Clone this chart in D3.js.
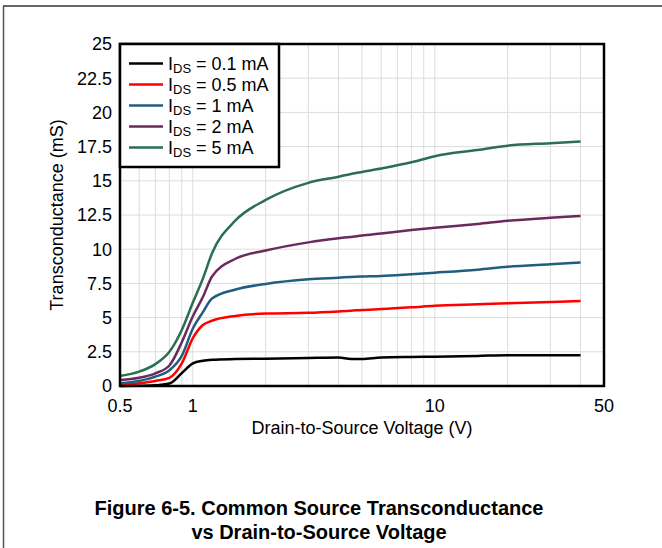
<!DOCTYPE html>
<html>
<head>
<meta charset="utf-8">
<script src="https://cdn.jsdelivr.net/npm/d3@7"></script>
<style>
  html, body { margin: 0; padding: 0; background: #fff; }
  svg { display: block; font-family: "Liberation Sans", Arial, sans-serif; }
</style>
</head>
<body>
<svg id="chart" width="662" height="548"></svg>
<script>
// ---- Data ----
const voltage = [0.5, 0.6, 0.7, 0.8, 0.9, 1, 1.1, 1.2, 1.5, 2, 3, 4, 4.5, 5, 6, 8, 10, 15, 20, 30, 40];
const gm_0p1mA = [0, 0.02, 0.05, 0.18, 0.94, 1.65, 1.85, 1.92, 1.97, 2.0, 2.05, 2.08, 1.97, 1.97, 2.08, 2.12, 2.14, 2.2, 2.25, 2.25, 2.25];
const gm_0p5mA = [0.07, 0.2, 0.37, 0.6, 1.65, 3.5, 4.46, 4.77, 5.12, 5.3, 5.35, 5.45, 5.5, 5.56, 5.62, 5.75, 5.87, 5.97, 6.04, 6.14, 6.21];
const gm_1mA   = [0.2, 0.37, 0.68, 1.15, 2.2, 4.2, 5.4, 6.4, 7.05, 7.46, 7.8, 7.92, 7.97, 8.0, 8.04, 8.17, 8.28, 8.5, 8.72, 8.9, 9.02];
const gm_2mA   = [0.44, 0.6, 0.93, 1.5, 3.2, 5.1, 6.5, 8.0, 9.3, 9.9, 10.5, 10.8, 10.9, 11.0, 11.15, 11.4, 11.57, 11.85, 12.08, 12.3, 12.43];
const gm_5mA   = [0.73, 1.05, 1.6, 2.5, 4.1, 6.1, 7.85, 9.7, 12.1, 13.6, 14.85, 15.3, 15.5, 15.65, 15.9, 16.35, 16.8, 17.25, 17.57, 17.75, 17.88];

const seriesNames = ["0.1 mA", "0.5 mA", "1 mA", "2 mA", "5 mA"];
const seriesValues = [gm_0p1mA, gm_0p5mA, gm_1mA, gm_2mA, gm_5mA];
const seriesColors = ["#000000", "#ff0000", "#1f5e7e", "#6a2a5e", "#2a7050"];

const yTicks = [0, 2.5, 5, 7.5, 10, 12.5, 15, 17.5, 20, 22.5, 25];
const xTickLabels = [0.5, 1, 10, 50];
const xGrid = [0.6, 0.7, 0.8, 0.9, 1, 2, 3, 4, 5, 6, 7, 8, 9, 10, 20, 30, 40];

const titleLines = ["Figure 6-5. Common Source Transconductance", "vs Drain-to-Source Voltage"];

// ---- Layout ----
const svg = d3.select("#chart");
const L = 120, R = 604, T = 44, B = 386;

const x = d3.scaleLog().domain([0.5, 50]).range([L, R]);
const y = d3.scaleLinear().domain([0, 25]).range([B, T]);

// page border lines
svg.append("line").attr("x1", 3).attr("x2", 662).attr("y1", 6).attr("y2", 6)
  .attr("stroke", "#333").attr("stroke-width", 1.5);
svg.append("line").attr("x1", 3.5).attr("x2", 3.5).attr("y1", 6).attr("y2", 548)
  .attr("stroke", "#555").attr("stroke-width", 1.5);

// grid
const grid = svg.append("g");
grid.selectAll("line.v").data(xGrid).join("line")
  .attr("x1", d => x(d)).attr("x2", d => x(d)).attr("y1", T).attr("y2", B)
  .attr("stroke", "#dcdcdc").attr("stroke-width", 1);
grid.selectAll("line.h").data(yTicks).join("line")
  .attr("x1", L).attr("x2", R).attr("y1", d => y(d)).attr("y2", d => y(d))
  .attr("stroke", "#dcdcdc").attr("stroke-width", 1);

// lines
const line = d3.line().x((d, i) => x(voltage[i])).y(d => y(d)).curve(d3.curveMonotoneX);
seriesValues.forEach((vals, k) => {
  svg.append("path").datum(vals)
    .attr("d", line)
    .attr("fill", "none")
    .attr("stroke", seriesColors[k])
    .attr("stroke-width", 2.5)
    .attr("stroke-linejoin", "round");
});

// frame
svg.append("rect").attr("x", L).attr("y", T).attr("width", R - L).attr("height", B - T)
  .attr("fill", "none").attr("stroke", "#000").attr("stroke-width", 2.5);

// y tick labels
svg.append("g").selectAll("text").data(yTicks).join("text")
  .attr("x", 112).attr("y", d => y(d)).attr("dy", "0.36em")
  .attr("text-anchor", "end").attr("font-size", 18).attr("fill", "#000")
  .text(d => d);

// x tick labels
svg.append("g").selectAll("text").data(xTickLabels).join("text")
  .attr("x", d => x(d)).attr("y", 412)
  .attr("text-anchor", "middle").attr("font-size", 18).attr("fill", "#000")
  .text(d => d);

// axis titles
svg.append("text").attr("x", (L + R) / 2).attr("y", 434)
  .attr("text-anchor", "middle").attr("font-size", 18).text("Drain-to-Source Voltage (V)");
svg.append("text").attr("transform", `translate(63, ${(T + B) / 2}) rotate(-90)`)
  .attr("text-anchor", "middle").attr("font-size", 18).text("Transconductance (mS)");

// legend
const lg = svg.append("g");
lg.append("rect").attr("x", L).attr("y", T).attr("width", 159).attr("height", 123)
  .attr("fill", "#fff").attr("stroke", "#000").attr("stroke-width", 2.5);
seriesNames.forEach((name, k) => {
  const ry = 63.5 + k * 21;
  lg.append("line").attr("x1", 129).attr("x2", 163).attr("y1", ry).attr("y2", ry)
    .attr("stroke", seriesColors[k]).attr("stroke-width", 2.5);
  const t = lg.append("text").attr("x", 168).attr("y", ry + 6.5).attr("font-size", 18);
  t.append("tspan").text("I");
  t.append("tspan").attr("font-size", 13).attr("dy", 3).text("DS");
  t.append("tspan").attr("dy", -3).text(" = " + name);
});

// caption
svg.append("g").selectAll("text").data(titleLines).join("text")
  .attr("x", 319).attr("y", (d, i) => 515 + i * 23.5)
  .attr("text-anchor", "middle").attr("font-size", 20).attr("font-weight", "bold")
  .text(d => d);
</script>
</body>
</html>
